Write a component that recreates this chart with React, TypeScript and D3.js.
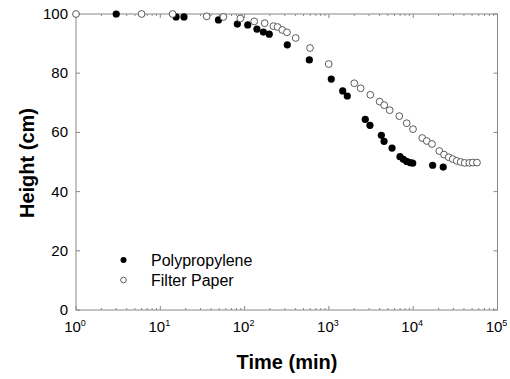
import React from 'react';
import * as d3 from 'd3';

// Polypropylene (filled)
const ppTime = [3.0, 15.4, 19.1, 49, 82, 109, 140, 167, 196, 321, 586, 1067, 1458, 1652, 2700, 3070, 4190, 4510, 5610, 6970, 7640, 8370, 9160, 9860, 17000, 22700];
const ppHeight = [100, 99.0, 99.0, 98.0, 96.6, 96.3, 94.9, 93.9, 93.2, 89.6, 84.5, 78.0, 74.0, 72.3, 64.4, 62.4, 59.0, 57.0, 54.7, 51.8, 50.9, 50.2, 49.8, 49.6, 48.9, 48.3];

// Filter Paper (open)
const fpTime = [1, 6.0, 14.0, 35.5, 56, 89, 130, 173, 220, 246, 280, 318, 404, 597, 995, 2000, 2380, 3100, 4000, 4530, 5260, 6840, 8370, 9950, 12800, 14500, 16700, 20400, 23200, 26400, 29400, 32800, 36600, 40800, 46300, 50800, 57100];
const fpHeight = [100, 100, 100, 99.2, 99.0, 98.5, 97.5, 96.9, 95.9, 95.6, 94.6, 93.8, 91.9, 88.5, 83.1, 76.6, 74.9, 72.7, 70.4, 69.2, 67.5, 65.5, 63.1, 61.1, 58.1, 57.1, 56.1, 53.7, 52.5, 51.6, 51.0, 50.4, 50.0, 49.7, 49.7, 49.8, 49.8];

const xExponents = [0, 1, 2, 3, 4, 5];
const yTicks = [0, 20, 40, 60, 80, 100];
const legendLabels = ['Polypropylene', 'Filter Paper'];

export default function App() {
    const width = 510;
    const height = 379;
    const left = 76, right = 497.5, top = 14, bottom = 310;

    const x = d3.scaleLog().domain([1, 1e5]).range([left, right]);
    const y = d3.scaleLinear().domain([0, 100]).range([bottom, top]);

    // minor ticks 2..9 in every decade
    const minor: number[] = [];
    for (let e = 0; e < 5; e++) {
        for (let m = 2; m <= 9; m++) minor.push(m * Math.pow(10, e));
    }

    const axisColor = '#888';
    const font = 'Liberation Sans, Arial, sans-serif';

    return (
        <svg width={width} height={height} style={{ position: 'absolute', left: 0, top: 0 }}>
            <rect x={left} y={top} width={right - left} height={bottom - top} fill="none" stroke={axisColor} strokeWidth={1} />
            {minor.map((v, i) => (
                <g key={'m' + i} stroke={axisColor}>
                    <line x1={x(v)} x2={x(v)} y1={bottom} y2={bottom - 2} />
                    <line x1={x(v)} x2={x(v)} y1={top} y2={top + 2} />
                </g>
            ))}
            {xExponents.map(e => (
                <g key={'x' + e}>
                    <line x1={x(Math.pow(10, e))} x2={x(Math.pow(10, e))} y1={bottom} y2={bottom - 4} stroke={axisColor} />
                    <line x1={x(Math.pow(10, e))} x2={x(Math.pow(10, e))} y1={top} y2={top + 4} stroke={axisColor} />
                    <text x={x(Math.pow(10, e)) - 1} y={332} textAnchor="middle" fontFamily={font} fontSize={15} fill="#000">
                        10<tspan dy={-6} fontSize={9}>{e}</tspan>
                    </text>
                </g>
            ))}
            {yTicks.map(t => (
                <g key={'y' + t}>
                    <line x1={left} x2={left + 4} y1={y(t)} y2={y(t)} stroke={axisColor} />
                    <line x1={right} x2={right - 4} y1={y(t)} y2={y(t)} stroke={axisColor} />
                    <text x={68} y={y(t) + 5} textAnchor="end" fontFamily={font} fontSize={15} fill="#000">{t}</text>
                </g>
            ))}
            {ppTime.map((t, i) => (
                <circle key={'p' + i} cx={x(t)} cy={y(ppHeight[i])} r={3.6} fill="#000" />
            ))}
            {fpTime.map((t, i) => (
                <circle key={'f' + i} cx={x(t)} cy={y(fpHeight[i])} r={3.4} fill="#fff" stroke="#333" strokeWidth={0.8} />
            ))}
            <circle cx={123.5} cy={260} r={3} fill="#000" />
            <circle cx={123.5} cy={280} r={2.8} fill="#fff" stroke="#333" strokeWidth={0.8} />
            <text x={151} y={266} fontFamily={font} fontSize={16} fill="#000">{legendLabels[0]}</text>
            <text x={151} y={286} fontFamily={font} fontSize={16} fill="#000">{legendLabels[1]}</text>
            <text x={287} y={369} textAnchor="middle" fontFamily={font} fontSize={20} fontWeight="bold" fill="#000">Time (min)</text>
            <text transform={`translate(34,163) rotate(-90)`} textAnchor="middle" fontFamily={font} fontSize={20} fontWeight="bold" fill="#000">Height (cm)</text>
        </svg>
    );
}
